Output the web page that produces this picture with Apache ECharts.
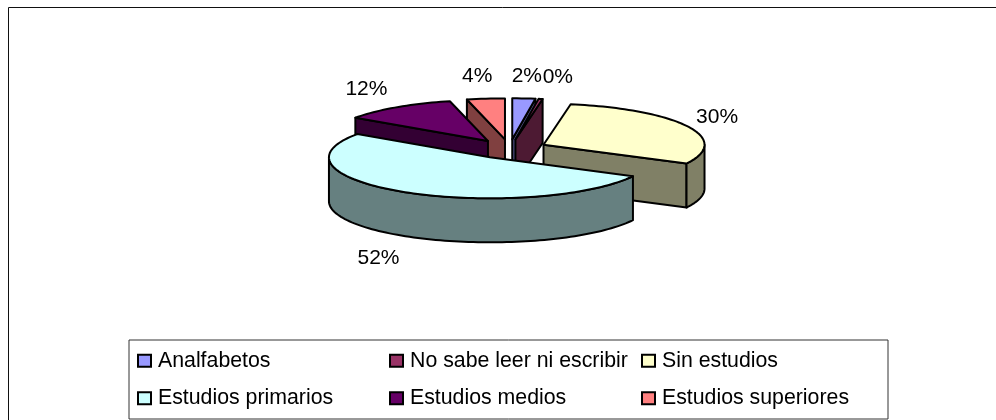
<!DOCTYPE html>
<html lang="es">
<head>
    <meta charset="UTF-8">
    <title>Nivel de estudios</title>
    <script src="https://cdn.jsdelivr.net/npm/echarts@6/dist/echarts.min.js"></script>
    <style type="text/css">
        html, body, #main {
            height: 420px;
            width: 996px;
            margin: 0;
            padding: 0;
            background: #fff;
        }
    </style>
</head>
<body>
<div id="main"></div>
<script>
    var categories = ['Analfabetos', 'No sabe leer ni escribir', 'Sin estudios',
        'Estudios primarios', 'Estudios medios', 'Estudios superiores'];
    var shares = [2.3, 0.4, 29.9, 52, 11.6, 3.8];
    var topColors = ['#9999FF', '#993366', '#FFFFCC', '#CCFFFF', '#660066', '#FF8080'];
    var sideColors = ['#4D4D80', '#4D1A33', '#808066', '#668080', '#330033', '#804040'];

    // pie geometry, in pixels
    var cx = 509.5, cy = 149, rx = 161, ry = 41, depth = 44, explode = 38;
    // small sideways shifts of the percent labels, same order as categories
    var labelNudge = [-4, 2, 0, -3, -4, 3];
    var fontFamily = '"Liberation Sans", Arial, sans-serif';

    var total = shares.reduce(function (a, b) { return a + b; }, 0);
    var slices = [];
    var acc = 0;
    shares.forEach(function (v, i) {
        var start = acc / total * Math.PI * 2;
        acc += v;
        var end = acc / total * Math.PI * 2;
        var mid = (start + end) / 2;
        slices.push({
            index: i,
            start: start,
            end: end,
            mid: mid,
            x: cx + explode * Math.sin(mid),
            y: cy - explode * ry / rx * Math.cos(mid)
        });
    });

    function rim(s, angle, drop) {
        return [s.x + rx * Math.sin(angle), s.y - ry * Math.cos(angle) + drop];
    }

    function arcPoints(s, from, to, drop) {
        var pts = [];
        var n = Math.max(2, Math.ceil((to - from) / 0.03));
        for (var k = 0; k <= n; k++) {
            pts.push(rim(s, from + (to - from) * k / n, drop));
        }
        return pts;
    }

    function face(points, color) {
        return {
            type: 'polygon',
            shape: {points: points},
            style: {fill: color, stroke: '#000', lineWidth: 2, lineJoin: 'round'}
        };
    }

    function renderSlice(s) {
        var i = s.index;
        var kids = [];
        // cut faces, only when they look towards the viewer
        if (Math.sin(s.start) < 0) {
            var a = rim(s, s.start, 0);
            kids.push(face([a, [s.x, s.y], [s.x, s.y + depth], [a[0], a[1] + depth]], sideColors[i]));
        }
        if (Math.sin(s.end) > 0) {
            var b = rim(s, s.end, 0);
            kids.push(face([b, [s.x, s.y], [s.x, s.y + depth], [b[0], b[1] + depth]], sideColors[i]));
        }
        // outer wall, front half of the ellipse only
        var from = Math.max(s.start, Math.PI / 2);
        var to = Math.min(s.end, Math.PI * 1.5);
        if (to > from) {
            kids.push(face(arcPoints(s, from, to, 0).concat(arcPoints(s, from, to, depth).reverse()), sideColors[i]));
        }
        // top
        kids.push(face([[s.x, s.y]].concat(arcPoints(s, s.start, s.end, 0)), topColors[i]));
        return {type: 'group', children: kids};
    }

    function renderLabel(s) {
        var sin = Math.sin(s.mid), cos = Math.cos(s.mid);
        var text = Math.round(shares[s.index] / total * 100) + '%';
        var halfWidth = text.length > 2 ? 20.5 : 14.5;
        var push = (sin < 0 ? -1 : 1) * halfWidth * Math.min(1, Math.abs(sin) * 6);
        return {
            type: 'text',
            style: {
                text: text,
                x: s.x + sin * (rx + 10) + push + labelNudge[s.index],
                y: s.y - cos * (ry + 24) + (cos < 0 ? depth : 0) + 1.5,
                fill: '#000',
                font: '21px ' + fontFamily,
                align: 'center',
                verticalAlign: 'middle'
            }
        };
    }

    // back slices first, so the front ones paint over them
    var drawOrder = slices.slice().sort(function (a, b) {
        return Math.cos(b.mid) - Math.cos(a.mid);
    });

    var series = drawOrder.map(function (s) {
        return {
            name: categories[s.index],
            type: 'custom',
            coordinateSystem: 'none',
            silent: true,
            itemStyle: {color: topColors[s.index]},
            data: [[shares[s.index]]],
            renderItem: function () {
                return {type: 'group', children: [renderSlice(s), renderLabel(s)]};
            }
        };
    });

    var myChart = echarts.init(document.getElementById('main'));
    myChart.setOption({
        animation: false,
        backgroundColor: '#fff',
        graphic: [{
            type: 'polyline',
            silent: true,
            shape: {points: [[8.5, 420], [8.5, 7.5], [996, 7.5]]},
            style: {fill: null, stroke: '#111', lineWidth: 1}
        }],
        legend: {
            data: categories,
            left: 129,
            top: 340,
            width: 757,
            padding: [6, 3, 6, 8],
            itemGap: 8,
            itemWidth: 13,
            itemHeight: 12,
            icon: 'rect',
            selectedMode: false,
            borderColor: '#333',
            borderWidth: 1,
            itemStyle: {borderColor: '#000', borderWidth: 2},
            textStyle: {
                color: '#000',
                fontFamily: fontFamily,
                fontSize: 21.3,
                lineHeight: 29.5,
                width: 223,
                padding: [0, 0, 0, 2]
            }
        },
        series: series
    });
</script>
</body>
</html>
